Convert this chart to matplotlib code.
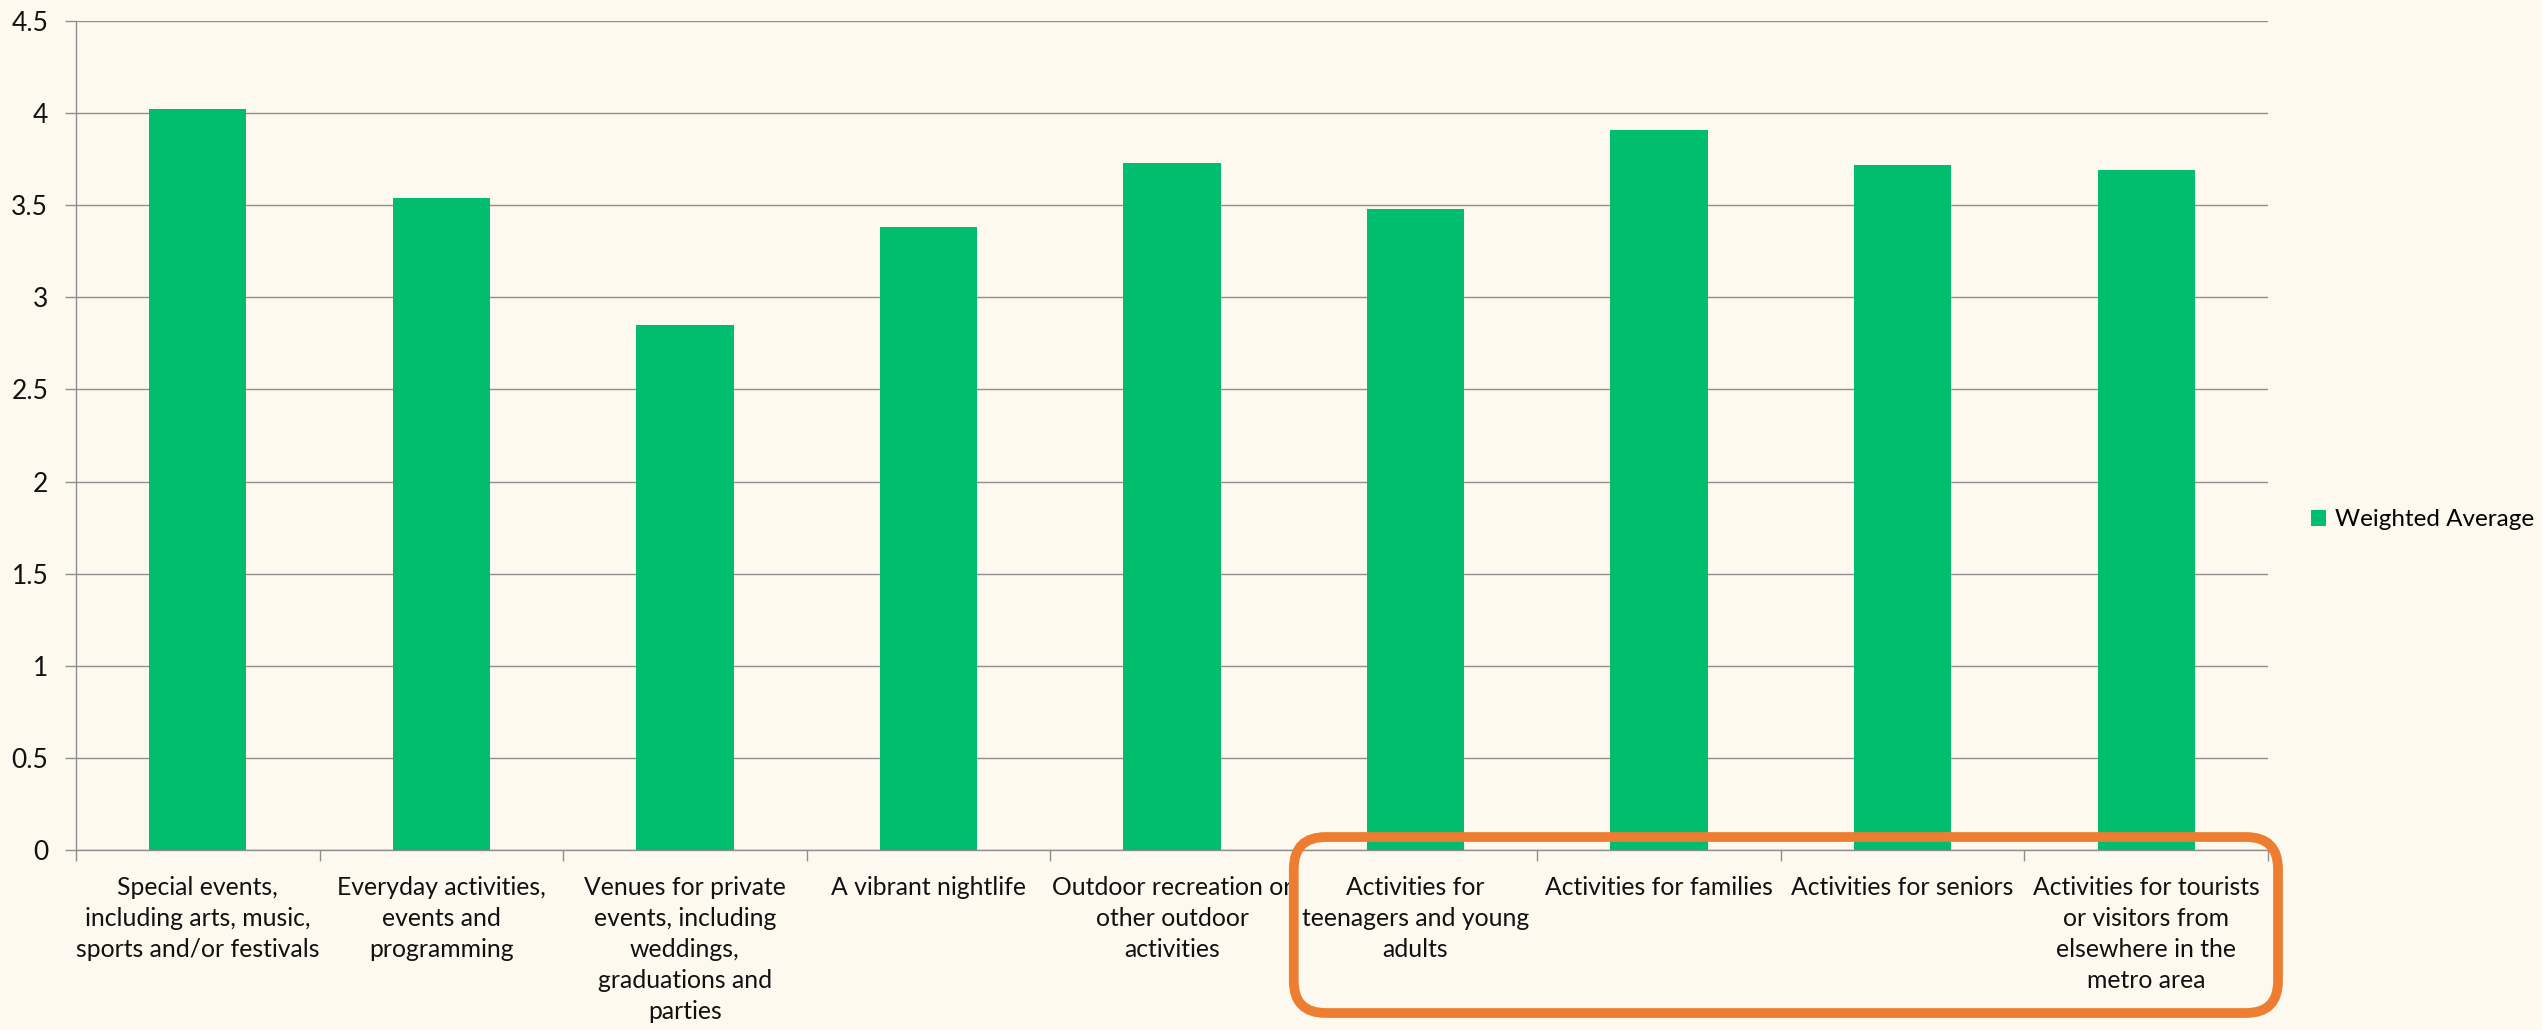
import matplotlib
matplotlib.use("Agg")
import matplotlib.pyplot as plt
import numpy as np
from matplotlib.patches import FancyBboxPatch
from matplotlib.transforms import IdentityTransform
from matplotlib.ticker import FixedLocator

categories = [
    "Special events,\nincluding arts, music,\nsports and/or festivals",
    "Everyday activities,\nevents and\nprogramming",
    "Venues for private\nevents, including\nweddings,\ngraduations and\nparties",
    "A vibrant nightlife",
    "Outdoor recreation or\nother outdoor\nactivities",
    "Activities for\nteenagers and young\nadults",
    "Activities for families",
    "Activities for seniors",
    "Activities for tourists\nor visitors from\nelsewhere in the\nmetro area",
]
weighted_average = [4.02, 3.54, 2.85, 3.38, 3.73, 3.48, 3.91, 3.72, 3.69]
y_ticks = [0, 0.5, 1, 1.5, 2, 2.5, 3, 3.5, 4, 4.5]
y_tick_labels = ["0", "0.5", "1", "1.5", "2", "2.5", "3", "3.5", "4", "4.5"]
series_name = "Weighted Average"

BG = "#FDF9EF"
BAR = "#00BE6E"
GRID = "#8E8E8E"
ORANGE = "#ED7D31"

plt.rcParams["font.family"] = ["Lato", "DejaVu Sans"]

W, H = 2542, 1030
fig = plt.figure(figsize=(W / 100, H / 100), dpi=100, facecolor=BG)
ax = fig.add_axes([76 / W, 1 - 850 / H, (2268 - 76) / W, (850 - 21) / H])
ax.set_facecolor(BG)

x = np.arange(len(categories))
bars = ax.bar(x, weighted_average, width=0.4, color=BAR, label=series_name, zorder=3)

ax.set_xlim(-0.5, len(categories) - 0.5)
ax.set_ylim(0, 4.5)
ax.set_yticks(y_ticks)
ax.set_yticklabels(y_tick_labels)
ax.set_xticks(x)
ax.set_xticklabels(categories, fontsize=17.8, linespacing=1.42, color="#111111")
ax.xaxis.set_minor_locator(FixedLocator(np.arange(-0.5, len(categories), 1.0)))
ax.tick_params(axis="x", which="major", length=0, pad=19)
ax.tick_params(axis="x", which="minor", length=8, color=GRID, width=1)
ax.tick_params(axis="y", length=8, color=GRID, width=1, pad=12, labelsize=19, labelcolor="#111111")

ax.grid(axis="y", color=GRID, linewidth=1.0, zorder=0)
for s in ["top", "right"]:
    ax.spines[s].set_visible(False)
for s in ["left", "bottom"]:
    ax.spines[s].set_color(GRID)
    ax.spines[s].set_linewidth(1.0)

fig.legend(handles=[bars], labels=[series_name], loc="center left",
           bbox_to_anchor=(2311 / W, 1 - 520 / H), frameon=False,
           borderpad=0, borderaxespad=0,
           fontsize=17.5, handlelength=0.6, handleheight=0.6, handletextpad=0.4)

# rounded highlight box around the last four categories (display pixels)
px0 = ax.transData.transform((4.5, 0))[0]
px1 = ax.transData.transform((8.5, 0))[0] + 10
py_top = H - 837
py_bot = H - 1013
box = FancyBboxPatch((px0, py_bot), px1 - px0, py_top - py_bot,
                     boxstyle="round,pad=0,rounding_size=32",
                     transform=IdentityTransform(), fill=False, edgecolor=ORANGE,
                     linewidth=7, clip_on=False, zorder=5)
fig.add_artist(box)

fig.savefig("out.png", dpi=100, facecolor=BG)
